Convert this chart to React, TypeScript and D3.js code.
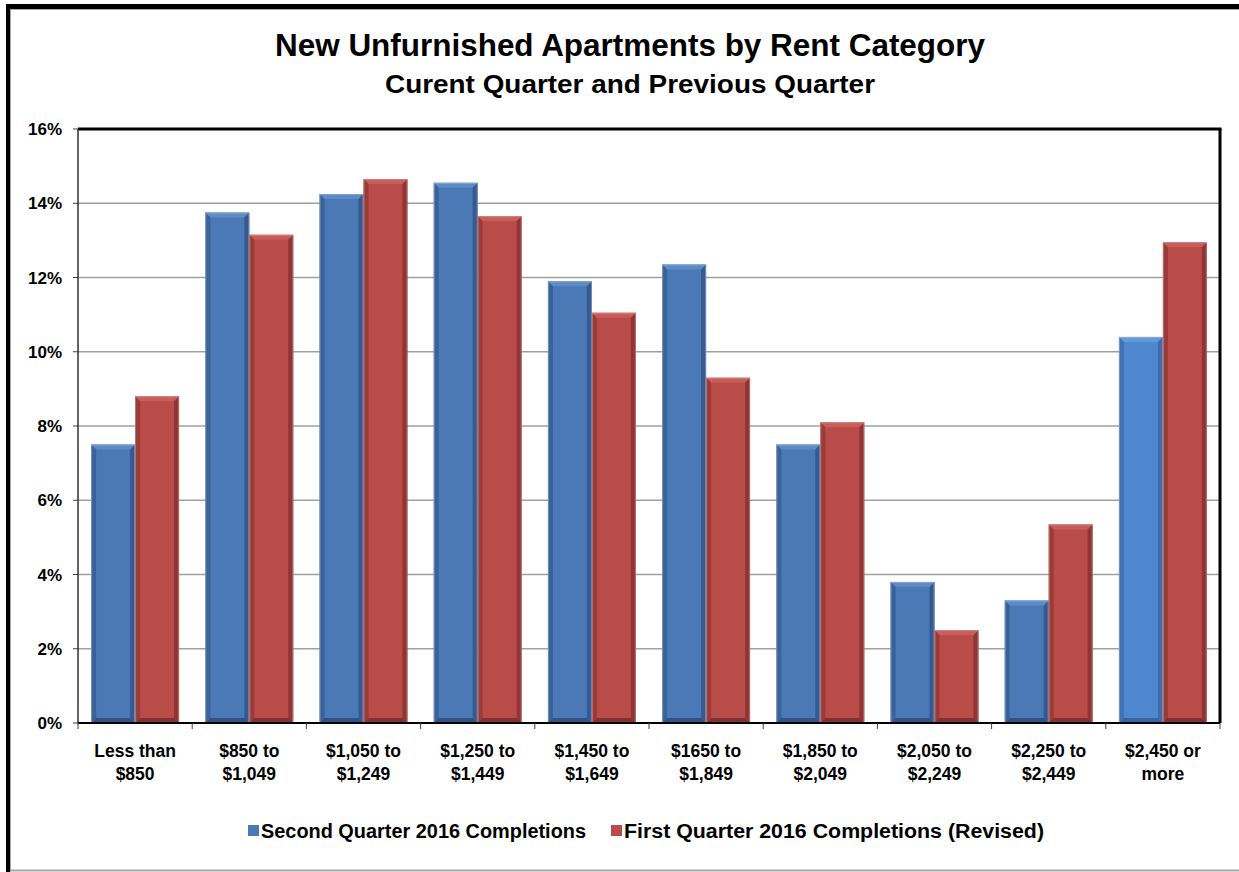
import React, { useEffect, useRef } from 'react'
import * as d3 from 'd3'

const categories = [
  ['Less than', '$850'],
  ['$850 to', '$1,049'],
  ['$1,050 to', '$1,249'],
  ['$1,250 to', '$1,449'],
  ['$1,450 to', '$1,649'],
  ['$1650 to', '$1,849'],
  ['$1,850 to', '$2,049'],
  ['$2,050 to', '$2,249'],
  ['$2,250 to', '$2,449'],
  ['$2,450 or', 'more']
]
const secondQuarter = [7.5, 13.75, 14.25, 14.55, 11.9, 12.35, 7.5, 3.8, 3.3, 10.4]
const firstQuarter = [8.8, 13.15, 14.65, 13.65, 11.05, 9.3, 8.1, 2.5, 5.35, 12.95]
const yTicks = [0, 2, 4, 6, 8, 10, 12, 14, 16]
const seriesNames = ['Second Quarter 2016 Completions', 'First Quarter 2016 Completions (Revised)']

const FONT = '"Liberation Sans", Arial, sans-serif'

const App = () => {
  const chartRef = useRef<HTMLDivElement>(null)

  useEffect(() => {
    document.body.style.margin = '0'
    if (!chartRef.current) return
    d3.select(chartRef.current).selectAll('*').remove()

    const width = 1239
    const height = 872
    const plot = { left: 78, top: 129, right: 1220, bottom: 723 }

    const svg = d3.select(chartRef.current)
        .append('svg')
        .attr('width', width)
        .attr('height', height)
        .style('display', 'block')
        .style('font-family', FONT)

    svg.append('rect').attr('width', width).attr('height', height).attr('fill', 'white')

    // outer frame (black left/top, grey lines inside)
    svg.append('rect').attr('x', 6).attr('y', 4).attr('width', width - 6).attr('height', 5).attr('fill', 'black')
    svg.append('rect').attr('x', 6).attr('y', 4).attr('width', 4).attr('height', height - 4).attr('fill', 'black')
    svg.append('line').attr('x1', 10).attr('x2', width).attr('y1', 9.5).attr('y2', 9.5).attr('stroke', '#a6a6a6')
    svg.append('line').attr('x1', 10.5).attr('x2', 10.5).attr('y1', 9).attr('y2', height).attr('stroke', '#a6a6a6')
    svg.append('line').attr('x1', 10).attr('x2', width).attr('y1', 870.5).attr('y2', 870.5).attr('stroke', '#a6a6a6').attr('stroke-width', 2)

    svg.append('text')
        .attr('x', 630).attr('y', 56)
        .attr('text-anchor', 'middle')
        .attr('textLength', 710).attr('lengthAdjust', 'spacingAndGlyphs')
        .style('font-size', '31px').style('font-weight', 'bold')
        .text('New Unfurnished Apartments  by Rent Category')

    svg.append('text')
        .attr('x', 630).attr('y', 93)
        .attr('text-anchor', 'middle')
        .attr('textLength', 490).attr('lengthAdjust', 'spacingAndGlyphs')
        .style('font-size', '26px').style('font-weight', 'bold')
        .text('Curent Quarter and Previous Quarter')

    const x0 = d3.scaleBand<number>()
        .domain(d3.range(categories.length))
        .range([plot.left, plot.right])
        .paddingInner(0.23)
        .paddingOuter(0.115)

    const x1 = d3.scaleBand<number>()
        .domain([0, 1])
        .range([0, x0.bandwidth()])

    const y = d3.scaleLinear().domain([0, 16]).range([plot.bottom, plot.top])

    // gridlines
    svg.append('g')
        .selectAll('line')
        .data(yTicks.filter(t => t > 0 && t < 16))
        .enter()
        .append('line')
        .attr('x1', plot.left).attr('x2', plot.right)
        .attr('y1', d => y(d)).attr('y2', d => y(d))
        .attr('stroke', '#a0a0a0').attr('stroke-width', 1.5)

    // y axis labels and ticks
    svg.append('g')
        .selectAll('text')
        .data(yTicks)
        .enter()
        .append('text')
        .attr('x', 62).attr('y', d => y(d))
        .attr('dy', '0.36em')
        .attr('text-anchor', 'end')
        .style('font-size', '17px').style('font-weight', 'bold')
        .text(d => `${d}%`)

    svg.append('g')
        .selectAll('line')
        .data(yTicks)
        .enter()
        .append('line')
        .attr('x1', plot.left - 5).attr('x2', plot.left)
        .attr('y1', d => y(d)).attr('y2', d => y(d))
        .attr('stroke', '#404040')

    const series = [
      { values: secondQuarter, color: '#4a79b6', light: '#5e8bc6', dark: '#2f5386', edge: '#a9c0de' },
      { values: firstQuarter, color: '#b94b49', light: '#c65e5c', dark: '#84302e', edge: '#dca7a6' }
    ]

    const bevel = 5
    series.forEach((s, si) => {
      const g = svg.append('g')
      s.values.forEach((v, i) => {
        const bx = (x0(i) ?? 0) + (x1(si) ?? 0)
        const bw = x1.bandwidth()
        const by = y(v)
        const bh = y(0) - by
        const last = si === 0 && i === categories.length - 1
        const base = last ? '#4f87cf' : s.color
        const light = last ? '#6699da' : s.light
        const dark = last ? '#3666a4' : s.dark
        const b = Math.min(bevel, bh / 2)
        g.append('rect').attr('x', bx).attr('y', by).attr('width', bw).attr('height', bh).attr('fill', base)
        // top bevel
        g.append('path')
            .attr('d', `M${bx},${by}L${bx + bw},${by}L${bx + bw - b},${by + b}L${bx + b},${by + b}Z`)
            .attr('fill', light)
        // left bevel
        g.append('path')
            .attr('d', `M${bx},${by}L${bx + b},${by + b}L${bx + b},${by + bh - b}L${bx},${by + bh}Z`)
            .attr('fill', dark).attr('opacity', 0.6)
        // right bevel
        g.append('path')
            .attr('d', `M${bx + bw},${by}L${bx + bw - b},${by + b}L${bx + bw - b},${by + bh - b}L${bx + bw},${by + bh}Z`)
            .attr('fill', dark).attr('opacity', 0.8)
        // bottom bevel
        g.append('path')
            .attr('d', `M${bx},${by + bh}L${bx + b},${by + bh - b}L${bx + bw - b},${by + bh - b}L${bx + bw},${by + bh}Z`)
            .attr('fill', dark)
        g.append('rect')
            .attr('x', bx + 0.5).attr('y', by + 0.5).attr('width', bw - 1).attr('height', bh - 1)
            .attr('fill', 'none').attr('stroke', s.edge).attr('stroke-width', 1).attr('opacity', 0.5)
      })
    })

    // plot border
    svg.append('line').attr('x1', plot.left).attr('x2', plot.right + 1.5).attr('y1', plot.top).attr('y2', plot.top)
        .attr('stroke', 'black').attr('stroke-width', 3)
    svg.append('line').attr('x1', plot.right).attr('x2', plot.right).attr('y1', plot.top).attr('y2', plot.bottom)
        .attr('stroke', 'black').attr('stroke-width', 3)
    svg.append('line').attr('x1', plot.left).attr('x2', plot.left).attr('y1', plot.top).attr('y2', plot.bottom)
        .attr('stroke', '#303030').attr('stroke-width', 1.5)
    svg.append('line').attr('x1', plot.left).attr('x2', plot.right).attr('y1', plot.bottom).attr('y2', plot.bottom)
        .attr('stroke', 'black').attr('stroke-width', 2)

    // x ticks
    const step = (plot.right - plot.left) / categories.length
    svg.append('g')
        .selectAll('line')
        .data(d3.range(categories.length + 1))
        .enter()
        .append('line')
        .attr('x1', d => plot.left + d * step).attr('x2', d => plot.left + d * step)
        .attr('y1', plot.bottom).attr('y2', plot.bottom + 6)
        .attr('stroke', '#404040')

    // x labels
    const xl = svg.append('g')
        .selectAll('text')
        .data(categories)
        .enter()
        .append('text')
        .attr('text-anchor', 'middle')
        .style('font-size', '17.5px').style('font-weight', 'bold')
        .attr('transform', (d, i) => `translate(${(x0(i) ?? 0) + x0.bandwidth() / 2},0)`)
    xl.append('tspan').attr('x', 0).attr('y', 757).text(d => d[0])
    xl.append('tspan').attr('x', 0).attr('y', 780).text(d => d[1])

    // legend
    const legendX = [248, 611]
    const legendLen = [325, 420]
    const legendColors = ['#4a79b6', '#b94b49']
    const legend = svg.append('g')
        .selectAll('g')
        .data(seriesNames)
        .enter()
        .append('g')
        .attr('transform', (d, i) => `translate(${legendX[i]},831)`)
    legend.append('rect')
        .attr('x', 0).attr('y', -6).attr('width', 11).attr('height', 11)
        .attr('fill', (d, i) => legendColors[i])
    legend.append('text')
        .attr('x', 13).attr('y', 0).attr('dy', '0.36em')
        .attr('textLength', (d, i) => legendLen[i]).attr('lengthAdjust', 'spacingAndGlyphs')
        .style('font-size', '20px').style('font-weight', 'bold')
        .text(d => d)
  }, [])

  return <div ref={chartRef} />
}

export default App
